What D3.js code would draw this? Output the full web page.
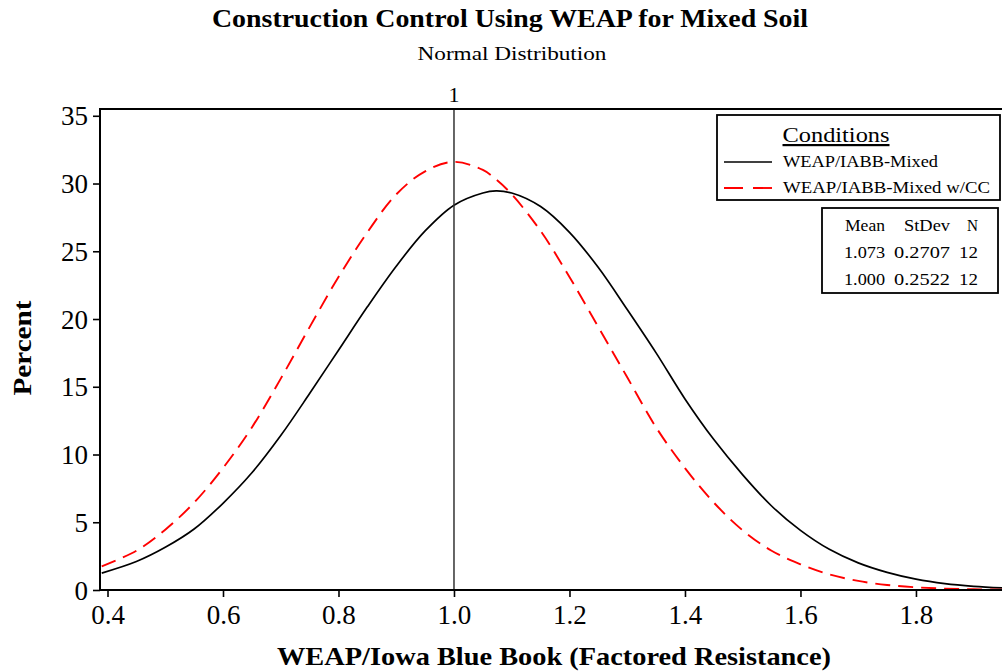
<!DOCTYPE html>
<html>
<head>
<meta charset="utf-8">
<script src="https://cdn.jsdelivr.net/npm/d3@7"></script>
<style>
  html, body { margin: 0; padding: 0; background: #fff; }
  svg { display: block; }
  text { font-family: "Liberation Serif", "Times New Roman", serif; fill: #000; }
</style>
</head>
<body>
<svg id="chart" width="1002" height="671"></svg>
<script>
// ---- Data ----
const xValues = [0.39, 0.45, 0.50, 0.55, 0.60, 0.65, 0.70, 0.75, 0.80, 0.85, 0.90, 0.95, 1.00, 1.05, 1.073, 1.10, 1.15, 1.20, 1.25, 1.30, 1.35, 1.40, 1.45, 1.50, 1.55, 1.60, 1.65, 1.70, 1.75, 1.80, 1.85, 1.90, 1.95];
const mixed   = [1.25, 2.1, 3.15, 4.5, 6.4, 8.65, 11.4, 14.5, 17.7, 20.9, 23.9, 26.5, 28.4, 29.3, 29.45, 29.3, 28.3, 26.4, 23.8, 20.7, 17.5, 14.1, 11.1, 8.5, 6.2, 4.4, 3.0, 2.0, 1.3, 0.8, 0.47, 0.27, 0.15];
const mixedCC = [1.75, 2.9, 4.45, 6.45, 9.0, 12.0, 15.6, 19.4, 23.1, 26.4, 29.2, 30.9, 31.6, 31.0, 30.3, 29.2, 26.5, 23.1, 19.4, 15.7, 12.0, 9.0, 6.45, 4.4, 2.9, 1.9, 1.15, 0.67, 0.37, 0.2, 0.1, 0.05, 0.02];
const seriesNames = ["WEAP/IABB-Mixed", "WEAP/IABB-Mixed w/CC"];
const xTicks = [0.4, 0.6, 0.8, 1.0, 1.2, 1.4, 1.6, 1.8];
const yTicks = [0, 5, 10, 15, 20, 25, 30, 35];
const refLineX = 1;
const statHeader = ["Mean", "StDev", "N"];
const statRows = [["1.073", "0.2707", "12"], ["1.000", "0.2522", "12"]];

// ---- Layout ----
const svg = d3.select("#chart");
const pLeft = 100, pRight = 1002, pTop = 109, pBottom = 590;
const x = d3.scaleLinear().domain([0.387, 1.949]).range([pLeft, pRight]);
const y = d3.scaleLinear().domain([0, 35.5]).range([pBottom, pTop]);

// Titles
svg.append("text").attr("x", 510).attr("y", 27).attr("text-anchor", "middle")
  .attr("font-size", 25).attr("font-weight", "bold")
  .attr("textLength", 596).attr("lengthAdjust", "spacingAndGlyphs")
  .text("Construction Control Using WEAP for Mixed Soil");
svg.append("text").attr("x", 512).attr("y", 60).attr("text-anchor", "middle")
  .attr("font-size", 19).attr("textLength", 189).attr("lengthAdjust", "spacingAndGlyphs")
  .text("Normal Distribution");

// Curves
const line = d3.line().x((d, i) => x(xValues[i])).y(d => y(d)).curve(d3.curveCatmullRom.alpha(0.5));
svg.append("path").datum(mixed).attr("d", line)
  .attr("fill", "none").attr("stroke", "#000").attr("stroke-width", 1.7);
svg.append("path").datum(mixedCC).attr("d", line)
  .attr("fill", "none").attr("stroke", "#ff0000").attr("stroke-width", 1.9)
  .attr("stroke-dasharray", "15,8");

// Reference line at x = 1
svg.append("line").attr("x1", x(refLineX)).attr("x2", x(refLineX))
  .attr("y1", pTop).attr("y2", pBottom).attr("stroke", "#333").attr("stroke-width", 1.5);
svg.append("text").attr("x", x(refLineX)).attr("y", 102).attr("text-anchor", "middle")
  .attr("font-size", 22).text("1");

// Axes
const yAxis = d3.axisLeft(y).tickValues(yTicks).tickSize(7).tickPadding(5).tickFormat(d3.format("d"));
const gy = svg.append("g").attr("transform", `translate(${pLeft},0)`).call(yAxis);
const xAxis = d3.axisBottom(x).tickValues(xTicks).tickSize(7).tickPadding(5).tickFormat(d3.format(".1f"));
const gx = svg.append("g").attr("transform", `translate(0,${pBottom})`).call(xAxis);
[gx, gy].forEach(g => {
  g.select(".domain").remove();
  g.selectAll(".tick line").attr("stroke", "#000").attr("stroke-width", 1.6);
  g.selectAll(".tick text").attr("font-family", "Liberation Serif, serif").attr("font-size", 27).attr("fill", "#000");
});
gy.selectAll(".tick text").attr("dy", "0.34em");
gx.selectAll(".tick text").attr("dy", "0.82em");

// Frame (left, top, bottom)
svg.append("path")
  .attr("d", `M${pRight + 2},${pTop}H${pLeft}V${pBottom}H${pRight + 2}`)
  .attr("fill", "none").attr("stroke", "#000").attr("stroke-width", 2);

// Axis titles
svg.append("text").attr("x", 554).attr("y", 665).attr("text-anchor", "middle")
  .attr("font-size", 25).attr("font-weight", "bold")
  .attr("textLength", 554).attr("lengthAdjust", "spacingAndGlyphs")
  .text("WEAP/Iowa Blue Book (Factored Resistance)");
svg.append("text").attr("transform", "translate(31,348) rotate(-90)").attr("text-anchor", "middle")
  .attr("font-size", 25).attr("font-weight", "bold")
  .attr("textLength", 95).attr("lengthAdjust", "spacingAndGlyphs")
  .text("Percent");

// Legend box
const lg = svg.append("g");
lg.append("rect").attr("x", 717).attr("y", 115).attr("width", 283).attr("height", 85)
  .attr("fill", "#fff").attr("stroke", "#000").attr("stroke-width", 1.8);
lg.append("text").attr("x", 836).attr("y", 142).attr("text-anchor", "middle")
  .attr("font-size", 22).attr("text-decoration", "underline")
  .attr("textLength", 107).attr("lengthAdjust", "spacingAndGlyphs").text("Conditions");
const legendStyles = [{ color: "#000", dash: null, w: 1.7, len: 155 }, { color: "#ff0000", dash: "19,10", w: 1.9, len: 207 }];
seriesNames.forEach((name, i) => {
  const yy = 162 + i * 26;
  const l = lg.append("line").attr("x1", 724).attr("x2", 772).attr("y1", yy).attr("y2", yy)
    .attr("stroke", legendStyles[i].color).attr("stroke-width", legendStyles[i].w);
  if (legendStyles[i].dash) l.attr("stroke-dasharray", legendStyles[i].dash);
  lg.append("text").attr("x", 783).attr("y", yy + 5).attr("font-size", 17.5)
    .attr("textLength", legendStyles[i].len).attr("lengthAdjust", "spacingAndGlyphs").text(name);
});

// Stats box
const sg = svg.append("g");
sg.append("rect").attr("x", 822).attr("y", 208).attr("width", 176).attr("height", 85)
  .attr("fill", "#fff").attr("stroke", "#000").attr("stroke-width", 1.8);
const colRight = [885, 950, 978];
const headerLen = [40, 46, 11];
const valueLen = [41, 56, 19];
statHeader.forEach((h, j) => {
  sg.append("text").attr("x", colRight[j]).attr("y", 231).attr("text-anchor", "end")
    .attr("font-size", 17).attr("textLength", headerLen[j]).attr("lengthAdjust", "spacingAndGlyphs").text(h);
});
statRows.forEach((row, i) => {
  row.forEach((v, j) => {
    sg.append("text").attr("x", colRight[j]).attr("y", 258 + i * 27).attr("text-anchor", "end")
      .attr("font-size", 17).attr("textLength", valueLen[j]).attr("lengthAdjust", "spacingAndGlyphs").text(v);
  });
});
</script>
</body>
</html>
